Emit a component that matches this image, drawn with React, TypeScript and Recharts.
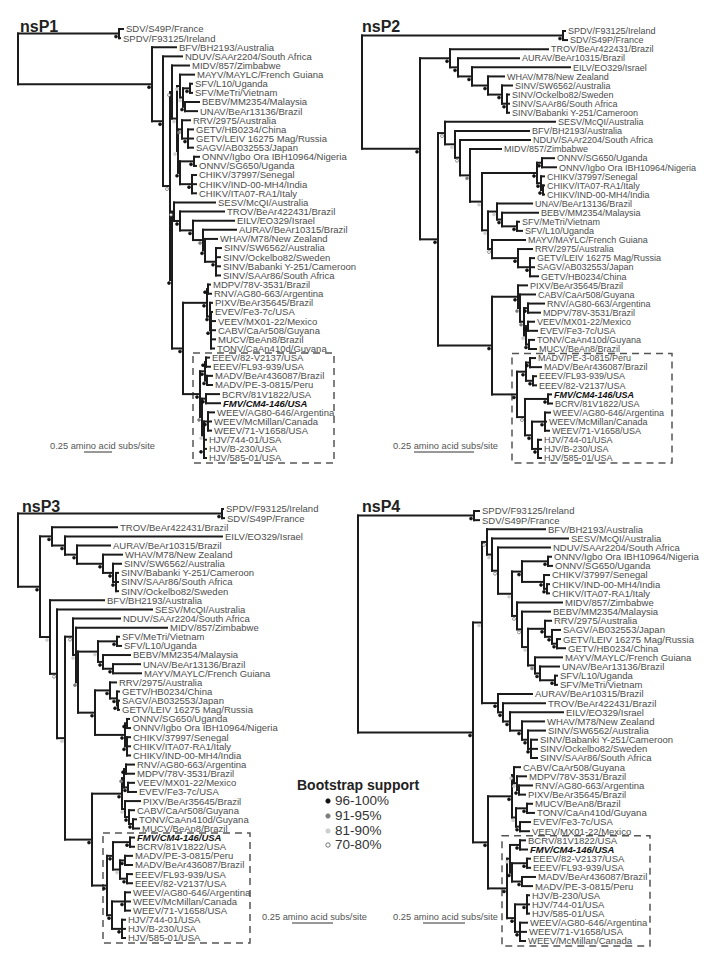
import React from 'react';
import { ScatterChart, Scatter, XAxis, YAxis, ReferenceLine, ReferenceArea } from 'recharts';

const W = 359;
const H = 482;
const FONT = '"Liberation Sans", Arial, Helvetica, sans-serif';

// Each line: "id support:branchLength = child, child, ..."
// Children with a "/" in them are leaves written as "name:branchLength".
// Branch lengths in its own drawing units.
const nsP1Nodes = [
  'root = OUT, n2',
  'OUT 100:101 = SDV/S49P/France:4, SPDV/F93125/Ireland:1',
  'n2 100:134 = BFV/BH2193/Australia:24, n3',
  'n3 100:11 = NDUV/SAAr2204/South Africa:19, n4',
  'n4 70:7 = n5, n6',
  'n5 75:2 = MIDV/857/Zimbabwe:17, n7',
  'n7 84:5 = n8, n12',
  'n8 90:3 = MAYV/MAYLC/French Guiana:14, n9',
  'n9 85:3 = n10, n11',
  'n10 100:7 = SFV/L10/Uganda:2, SFV/MeTri/Vietnam:2',
  'n11 98:2 = BEBV/MM2354/Malaysia:14, UNAV/BeAr13136/Brazil:12',
  'n12 88:1 = n13, n15',
  'n13 93:4 = RRV/2975/Australia:8, n14',
  'n14 100:6 = GETV/HB0234/China:5, GETV/LEIV 16275 Mag/Russia:5, SAGV/AB032553/Japan:5',
  'n15 100:2 = n16, n17',
  'n16 100:14 = ONNV/Igbo Ora IBH10964/Nigeria:5, ONNV/SG650/Uganda:2',
  'n17 100:12 = CHIKV/37997/Senegal:4, CHIKV/IND-00-MH4/India:4, CHIKV/ITA07-RA1/Italy:4',
  'n6 100:2 = n18, n24',
  'n18 72:2 = SESV/McQI/Australia:41, n19',
  'n19 100:6 = TROV/BeAr422431/Brazil:44, n20',
  'n20 100:13 = EILV/EO329/Israel:41, n21',
  'n21 93:10 = AURAV/BeAr10315/Brazil:33, n22',
  'n22 100:2 = WHAV/M78/New Zealand:12, n23',
  'n23 100:11 = SINV/SW6562/Australia:5, SINV/Ockelbo82/Sweden:4, SINV/Babanki Y-251/Cameroon:4, SINV/SAAr86/South Africa:4',
  'n24 100:11 = n25, box',
  'n25 100:24 = n26, n27',
  'n26 100:1 = MDPV/78V-3531/Brazil:2, RNV/AG80-663/Argentina:3',
  'n27 100:3 = PIXV/BeAr35645/Brazil:2, n28',
  'n28 98:1 = EVEV/Fe3-7c/USA:1, VEEV/MX01-22/Mexico:4, CABV/CaAr508/Guyana:4, MUCV/BeAn8/Brazil:4, TONV/CaAn410d/Guyana:3',
  'box 100:17 = n29, n32',
  'n29 100:5 = n30, n31',
  'n30 100:1 = EEEV/82-V2137/USA:3, EEEV/FL93-939/USA:4',
  'n31 100:2 = MADV/BeAr436087/Brazil:5, MADV/PE-3-0815/Peru:5',
  'n32 92:2 = n33, n34',
  'n33 100:4 = BCRV/81V1822/USA:13, FMV/CM4-146/USA:14',
  'n34 85:2 = n35, n36',
  'n35 100:4 = WEEV/AG80-646/Argentina:6, WEEV/McMillan/Canada:3, WEEV/71-V1658/USA:3',
  'n36 100:0 = HJV/744-01/USA:2, HJV/B-230/USA:2, HJV/585-01/USA:2',
];

const nsP2Nodes = [
  'root = OUT, A',
  'OUT 100:201 = SPDV/F93125/Ireland:2, SDV/S49P/France:4',
  'A 100:58 = B, H',
  'B 96:30 = TROV/BeAr422431/Brazil:98, C',
  'C 100:8 = AURAV/BeAr10315/Brazil:61, D',
  'D 100:14 = EILV/EO329/Israel:98, E',
  'E 100:16 = WHAV/M78/New Zealand:16, F',
  'F 98:14 = SINV/SW6562/Australia:10, G',
  'G 100:5 = SINV/Ockelbo82/Sweden:2, SINV/SAAr86/South Africa:2, SINV/Babanki Y-251/Cameroon:2',
  'H 100:18 = I, J',
  'I 75:7 = SESV/McQI/Australia:110, K',
  'K 88:10 = BFV/BH2193/Australia:74, L',
  'L 80:5 = NDUV/SAAr2204/South Africa:70, M',
  'M 93:10 = MIDV/857/Zimbabwe:31, N',
  'N 90:12 = O, P',
  'O 100:55 = Q, R',
  'Q 100:5 = ONNV/SG650/Uganda:12, ONNV/Igbo Ora IBH10964/Nigeria:14',
  'R 100:4 = CHIKV/37997/Senegal:3, S',
  'S 100:2 = CHIKV/ITA07-RA1/Italy:1, CHIKV/IND-00-MH4/India:1',
  'P 85:6 = T, W',
  'T 88:9 = UNAV/BeAr13136/Brazil:35, U',
  'U 100:5 = BEBV/MM2354/Malaysia:36, V',
  'V 100:15 = SFV/MeTri/Vietnam:2, SFV/L10/Uganda:5',
  'W 78:4 = MAYV/MAYLC/French Guiana:33, X',
  'X 100:26 = RRV/2975/Australia:14, Y',
  'Y 100:12 = GETV/LEIV 16275 Mag/Russia:4, SAGV/AB032553/Japan:4, GETV/HB0234/China:8',
  'J 100:54 = Z, BOX',
  'Z 100:26 = PIXV/BeAr35645/Brazil:9, Z2',
  'Z2 95:2 = CABV/CaAr508/Guyana:15, Z3',
  'Z3 92:4 = Z4, Z5',
  'Z4 100:4 = RNV/AG80-663/Argentina:16, MDPV/78V-3531/Brazil:12',
  'Z5 85:2 = Z6, Z7',
  'Z6 100:2 = VEEV/MX01-22/Mexico:6, EVEV/Fe3-7c/USA:9',
  'Z7 100:3 = TONV/CaAn410d/Guyana:5, MUCV/BeAn8/Brazil:7',
  'BOX 100:25 = EM, WH',
  'EM 100:9 = MAD, EEE',
  'MAD 100:4 = MADV/PE-3-0815/Peru:5, MADV/BeAr436087/Brazil:11',
  'EEE 100:7 = EEEV/FL93-939/USA:3, EEEV/82-V2137/USA:3',
  'WH 80:8 = FB, WHJ',
  'FB 100:23 = FMV/CM4-146/USA:3, BCRV/81V1822/USA:4',
  'WHJ 100:7 = WE, HJ',
  'WE 100:13 = WEEV/AG80-646/Argentina:5, WEEV/McMillan/Canada:1, WEEV/71-V1658/USA:4',
  'HJ 100:6 = HJV/744-01/USA:3, HJV/B-230/USA:3, HJV/585-01/USA:3',
];

const nsP3Nodes = [
  'root = OUT, IN',
  'OUT 100:204 = SPDV/F93125/Ireland:1, SDV/S49P/France:2',
  'IN 100:22 = S1, R0',
  'S1 100:12 = TROV/BeAr422431/Brazil:65, S2',
  'S2 96:13 = EILV/EO329/Israel:157, S3',
  'S3 100:12 = AURAV/BeAr10315/Brazil:33, S4',
  'S4 100:26 = WHAV/M78/New Zealand:19, S5',
  'S5 100:10 = SINV/SW6562/Australia:8, S6',
  'S6 100:3 = SINV/Babanki Y-251/Cameroon:2, SINV/SAAr86/South Africa:2, SINV/Ockelbo82/Sweden:2',
  'R0 85:10 = BFV/BH2193/Australia:54, R2',
  'R2 80:7 = SESV/McQI/Australia:95, R3',
  'R3 90:8 = SFC, VB',
  'SFC 75:8 = NDUV/SAAr2204/South Africa:47, R4',
  'R4 82:3 = MIDV/857/Zimbabwe:91, OW',
  'OW 93:2 = OW1, OW4',
  'OW1 90:20 = SFVn, OW2',
  'SFVn 100:19 = SFV/MeTri/Vietnam:2, SFV/L10/Uganda:4',
  'OW2 100:5 = BEBV/MM2354/Malaysia:27, OW3',
  'OW3 100:10 = UNAV/BeAr13136/Brazil:27, MAYV/MAYLC/French Guiana:28',
  'OW4 100:17 = RG, OC',
  'RG 100:15 = RRV/2975/Australia:6, GETn',
  'GETn 100:7 = GETV/HB0234/China:2, SAGn',
  'SAGn 100:1 = SAGV/AB032553/Japan:1, GETV/LEIV 16275 Mag/Russia:1',
  'OC 100:30 = ON, CH',
  'ON 100:2 = ONNV/SG650/Uganda:2, ONNV/Igbo Ora IBH10964/Nigeria:3',
  'CH 100:2 = CHIKV/37997/Senegal:3, CHIKV/ITA07-RA1/Italy:3, CHIKV/IND-00-MH4/India:3',
  'VB 100:27 = VC, BOX',
  'VC 100:30 = VC1, VC2',
  'VC1 92:2 = RM, VE',
  'RM 100:2 = RNV/AG80-663/Argentina:8, MDPV/78V-3531/Brazil:8',
  'VE 100:4 = VEEV/MX01-22/Mexico:6, EVEV/Fe3-7c/USA:8',
  'VC2 88:3 = PIXV/BeAr35645/Brazil:15, VC3',
  'VC3 100:4 = CABV/CaAr508/Guyana:5, TM',
  'TM 100:4 = TONV/CaAn410d/Guyana:3, MUCV/BeAn8/Brazil:6',
  'BOX 96:15 = BX1, WH',
  'BX1 100:6 = FB, EM',
  'FB 100:17 = FMV/CM4-146/USA:4, BCRV/81V1822/USA:4',
  'EM 85:7 = MAD, EEE',
  'MAD 100:5 = MADV/PE-3-0815/Peru:7, MADV/BeAr436087/Brazil:7',
  'EEE 100:7 = EEEV/FL93-939/USA:5, EEEV/82-V2137/USA:5',
  'WH 100:5 = WE, HJ',
  'WE 100:13 = WEEV/AG80-646/Argentina:5, WEEV/McMillan/Canada:5, WEEV/71-V1658/USA:5',
  'HJ 100:10 = HJV/744-01/USA:3, HJV/B-230/USA:3, HJV/585-01/USA:3',
];

const nsP4Nodes = [
  'root = OUT, IN',
  'OUT 100:116 = SPDV/F93125/Ireland:5, SDV/S49P/France:5',
  'IN 100:115 = SF4, VB',
  'SF4 82:9 = B1, SIN',
  'B1 78:5 = BFV/BH2193/Australia:58, B2',
  'B2 85:5 = SESV/McQI/Australia:76, B3',
  'B3 80:6 = NDUV/SAAr2204/South Africa:52, B4',
  'B4 88:14 = ONCH, B5',
  'ONCH 100:10 = ON, CH',
  'ON 100:26 = ONNV/Igbo Ora IBH10964/Nigeria:3, ONNV/SG650/Uganda:4',
  'CH 100:22 = CHIKV/37997/Senegal:5, CHd',
  'CHd 100:3 = CHIKV/IND-00-MH4/India:2, CHIKV/ITA07-RA1/Italy:2',
  'B5 75:5 = MIDV/857/Zimbabwe:45, B6',
  'B6 80:5 = BEBV/MM2354/Malaysia:28, B7',
  'B7 90:6 = RG, MU',
  'RG 100:17 = RRV/2975/Australia:6, SG',
  'SG 100:7 = SAGV/AB032553/Japan:8, GH',
  'GH 100:5 = GETV/LEIV 16275 Mag/Russia:3, GETV/HB0234/China:8',
  'MU 92:7 = MAYV/MAYLC/French Guiana:27, MU2',
  'MU2 100:5 = UNAV/BeAr13136/Brazil:19, SFVn',
  'SFVn 100:15 = SFV/L10/Uganda:2, SFV/MeTri/Vietnam:2',
  'SIN 100:16 = AURAV/BeAr10315/Brazil:34, SI2',
  'SI2 100:5 = TROV/BeAr422431/Brazil:42, SI3',
  'SI3 96:7 = EILV/EO329/Israel:53, SI4',
  'SI4 100:12 = WHAV/M78/New Zealand:22, SI5',
  'SI5 100:6 = SINV/SW6562/Australia:17, SI6',
  'SI6 100:3 = SINV/Babanki Y-251/Cameroon:6, SINV/Ockelbo82/Sweden:6, SINV/SAAr86/South Africa:6',
  'VB 100:15 = VC, BOX',
  'VC 100:24 = VC1, VC2',
  'VC1 90:2 = CABV/CaAr508/Guyana:6, VC1a',
  'VC1a 85:3 = MDPV/78V-3531/Brazil:9, VC1b',
  'VC1b 100:2 = RNV/AG80-663/Argentina:13, PIXV/BeAr35645/Brazil:6',
  'VC2 88:4 = TM, EV',
  'TM 100:11 = MUCV/BeAn8/Brazil:5, TONV/CaAn410d/Guyana:7',
  'EV 100:4 = EVEV/Fe3-7c/USA:10, VEEV/MX01-22/Mexico:9',
  'BOX 96:19 = BX1, HW',
  'BX1 90:3 = FB, EM',
  'FB 100:10 = BCRV/81V1822/USA:5, FMV/CM4-146/USA:7',
  'EM 100:2 = EEE, MAD',
  'EEE 100:15 = EEEV/82-V2137/USA:3, EEEV/FL93-939/USA:3',
  'MAD 100:10 = MADV/BeAr436087/Brazil:13, MADV/PE-3-0815/Peru:10',
  'HW 100:8 = HJ, WE',
  'HJ 100:12 = HJV/B-230/USA:2, HJV/744-01/USA:2, HJV/585-01/USA:2',
  'WE 100:5 = WEEV/AG80-646/Argentina:7, WEEV/71-V1658/USA:6, WEEV/McMillan/Canada:5',
];

const panelTitles = ['nsP1', 'nsP2', 'nsP3', 'nsP4'];
const scaleBarLabel = '0.25 amino acid subs/site';
// length of the 0.25 subs/site bar in each panel's drawing units
const scaleBarLength = [28, 60, 41, 42];
const supportClasses = ['96-100%', '91-95%', '81-90%', '70-80%'];
const supportMin = [96, 91, 81, 70];

const panels = [
  { nodes: nsP1Nodes, left: 0, top: 0, rootX: 18, firstY: 29, lastY: 458, fs: 9.5, titleX: 20, box: [193, 334], scale: { tx: 50, ty: 446, x: 84, y: 452 } },
  { nodes: nsP2Nodes, left: 355, top: 0, rootX: 7, firstY: 31, lastY: 458, fs: 9, titleX: 7, box: [157, 317], scale: { tx: 38, ty: 446, x: 59, y: 452 } },
  { nodes: nsP3Nodes, left: 0, top: 480, rootX: 18, firstY: 29, lastY: 458, fs: 9.5, titleX: 22, box: [103, 250], scale: { tx: 262, ty: 437, x: 292, y: 443 } },
  { nodes: nsP4Nodes, left: 355, top: 480, rootX: 3, firstY: 31, lastY: 461, fs: 9.5, titleX: 7, box: [147, 295], scale: { tx: 38, ty: 437, x: 68, y: 443 } },
];

type TNode = { name?: string; len: number; bs?: number; kids: TNode[] };

function buildTree(lines: string[]): TNode {
  const defs = new Map<string, { bs?: number; len: number; kids: string[] }>();
  for (const line of lines) {
    const [head, body] = line.split(' = ');
    const [id, meta] = head.trim().split(' ');
    let bs: number | undefined;
    let len = 0;
    if (meta) {
      const [b, l] = meta.split(':');
      bs = Number(b);
      len = Number(l);
    }
    defs.set(id, { bs, len, kids: body.split(',').map((s) => s.trim()) });
  }
  const make = (token: string): TNode => {
    if (token.includes('/')) {
      const k = token.lastIndexOf(':');
      return { name: token.slice(0, k), len: Number(token.slice(k + 1)), kids: [] };
    }
    const d = defs.get(token)!;
    return { bs: d.bs, len: d.len, kids: d.kids.map(make) };
  };
  return make('root');
}

function layoutTree(root: TNode, rootX: number) {
  const segs: { x1: number; y1: number; x2: number; y2: number }[] = [];
  const leaves: { x: number; y: number; name: string }[] = [];
  const inner: { x: number; y: number; bs: number }[] = [];
  let row = 0;
  const walk = (n: TNode, px: number): number => {
    const x = px + n.len;
    let y: number;
    if (!n.kids.length) {
      y = row++;
      leaves.push({ x, y, name: n.name || '' });
    } else {
      const ys = n.kids.map((k) => walk(k, x));
      y = (ys[0] + ys[ys.length - 1]) / 2;
      segs.push({ x1: x, y1: ys[0], x2: x, y2: ys[ys.length - 1] });
      if (n.bs) inner.push({ x, y, bs: n.bs });
    }
    if (n.len > 0) segs.push({ x1: px, y1: y, x2: x, y2: y });
    return y;
  };
  walk(root, rootX);
  return { segs, leaves, inner };
}

const dotStyle = (bs: number) => {
  if (bs >= supportMin[0]) return { fill: '#111', stroke: '#111' };
  if (bs >= supportMin[1]) return { fill: '#7d7d7d', stroke: '#7d7d7d' };
  if (bs >= supportMin[2]) return { fill: '#cdcdcd', stroke: '#cdcdcd' };
  return { fill: '#fff', stroke: '#555' };
};

const TreePanel = ({ p, title, barLen }: { p: (typeof panels)[number]; title: string; barLen: number }) => {
  const { segs, leaves, inner } = layoutTree(buildTree(p.nodes), p.rootX);
  const step = (p.lastY - p.firstY) / (leaves.length - 1);
  const toRow = (py: number) => (py - p.firstY) / step;
  const yDomain = [toRow(0), toRow(H)];
  const boxRow = 36;

  const leafLabel = (props: any) => {
    const { cx, cy, payload } = props;
    const special = payload.name.startsWith('FMV');
    return (
      <text
        x={cx + 3}
        y={cy}
        dy="0.36em"
        fontSize={p.fs}
        fontFamily={FONT}
        fill={special ? '#111' : '#4d4d4d'}
        fontWeight={special ? 700 : 400}
        fontStyle={special ? 'italic' : 'normal'}
      >
        {payload.name}
      </text>
    );
  };

  const supportDot = (props: any) => {
    const { cx, cy, payload } = props;
    return <circle cx={cx - 3} cy={cy + 3} r={1.5} strokeWidth={0.6} {...dotStyle(payload.bs)} />;
  };

  return (
    <div style={{ position: 'absolute', left: p.left, top: p.top, width: W, height: H }}>
      <ScatterChart width={W} height={H} margin={{ top: 0, right: 0, bottom: 0, left: 0 }}>
        <XAxis type="number" dataKey="x" domain={[0, W]} allowDataOverflow hide />
        <YAxis type="number" dataKey="y" domain={yDomain} allowDataOverflow reversed hide />
        <ReferenceArea
          x1={p.box[0]}
          x2={p.box[1]}
          y1={boxRow - 0.5}
          y2={leaves.length - 1 + 0.55}
          fill="none"
          stroke="#555"
          strokeWidth={1.5}
          strokeDasharray="7 5"
          ifOverflow="visible"
        />
        {segs.map((s, k) => (
          <ReferenceLine
            key={k}
            segment={[{ x: s.x1, y: s.y1 }, { x: s.x2, y: s.y2 }]}
            stroke="#1b1b1b"
            strokeWidth={2}
            strokeLinecap="square"
            ifOverflow="visible"
          />
        ))}
        <ReferenceLine
          segment={[{ x: p.scale.x, y: toRow(p.scale.y) }, { x: p.scale.x + barLen, y: toRow(p.scale.y) }]}
          stroke="#333"
          strokeWidth={1}
          ifOverflow="visible"
        />
        <Scatter data={inner} shape={supportDot} isAnimationActive={false} />
        <Scatter data={leaves} shape={leafLabel} isAnimationActive={false} />
      </ScatterChart>
      <div
        style={{
          position: 'absolute',
          left: p.titleX,
          top: 17,
          fontFamily: FONT,
          fontWeight: 700,
          fontSize: 16,
          color: '#222',
          lineHeight: '20px',
        }}
      >
        {title}
      </div>
      <div
        style={{
          position: 'absolute',
          left: p.scale.tx,
          top: p.scale.ty - 6,
          fontFamily: FONT,
          fontSize: 9.3,
          color: '#555',
          lineHeight: '12px',
          whiteSpace: 'nowrap',
        }}
      >
        {scaleBarLabel}
      </div>
    </div>
  );
};

const SupportLegend = () => (
  <div style={{ position: 'absolute', left: 297, top: 776, fontFamily: FONT }}>
    <div style={{ fontWeight: 700, fontSize: 14, color: '#222', lineHeight: '18px' }}>Bootstrap support</div>
    {supportClasses.map((label, i) => (
      <div key={label} style={{ display: 'flex', alignItems: 'center', height: 14.7, marginLeft: 27 }}>
        <svg width={8} height={8} style={{ marginRight: 3 }}>
          <circle cx={4} cy={4} r={2.2} strokeWidth={0.8} {...dotStyle(supportMin[i])} />
        </svg>
        <span style={{ fontSize: 13.5, color: '#333', lineHeight: '14px' }}>{label}</span>
      </div>
    ))}
  </div>
);

export default function App() {
  return (
    <div style={{ position: 'absolute', left: 0, top: 0, width: 714, height: 964, background: '#fff', overflow: 'hidden' }}>
      {panels.map((p, i) => (
        <TreePanel key={panelTitles[i]} p={p} title={panelTitles[i]} barLen={scaleBarLength[i]} />
      ))}
      <SupportLegend />
    </div>
  );
}
